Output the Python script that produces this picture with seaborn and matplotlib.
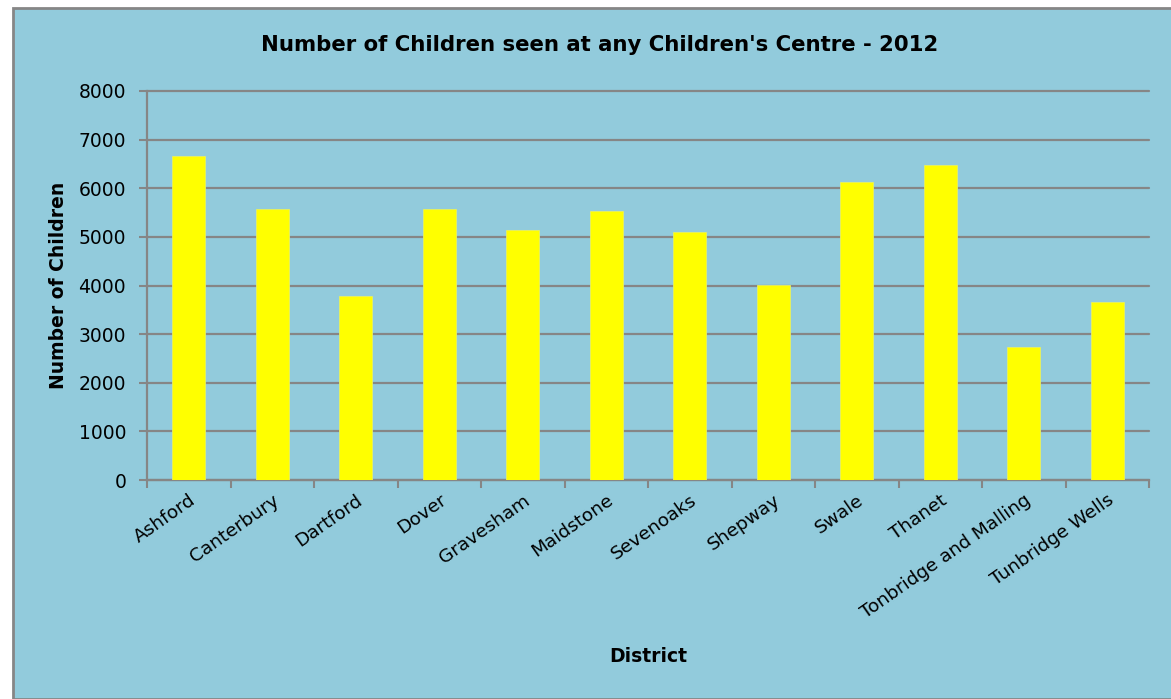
import numpy as np
import pandas as pd
import matplotlib
matplotlib.use("Agg")
import matplotlib.pyplot as plt
import seaborn as sns
from matplotlib.patches import Rectangle

# data
districts = ["Ashford", "Canterbury", "Dartford", "Dover", "Gravesham",
             "Maidstone", "Sevenoaks", "Shepway", "Swale", "Thanet",
             "Tonbridge and Malling", "Tunbridge Wells"]
children = [6670, 5570, 3790, 5580, 5140, 5530, 5100, 4010, 6120, 6470, 2740, 3670]

df = pd.DataFrame({"District": districts, "Children": children})

BG = "#92CBDC"
GRID = "#868686"

sns.set_theme(style="white")
plt.rcParams["font.family"] = ["DejaVu Sans"]
plt.rcParams["text.color"] = "black"
plt.rcParams["axes.labelcolor"] = "black"
plt.rcParams["xtick.labelcolor"] = "black"
plt.rcParams["ytick.labelcolor"] = "black"

fig = plt.figure(figsize=(11.71, 6.99), dpi=100)
fig.patch.set_facecolor("white")
# chart-area box with grey border
fig.patches.append(Rectangle((13 / 1171, 0), 1 - 13 / 1171 + 0.01, 1 - 8 / 699,
                             transform=fig.transFigure, facecolor=BG,
                             edgecolor=GRID, linewidth=2, zorder=-10))

ax = fig.add_axes([147 / 1171, 1 - 480 / 699, (1149 - 147) / 1171, (480 - 91) / 699])
ax.set_facecolor(BG)

sns.barplot(data=df, x="District", y="Children", color="#FFFF00",
            saturation=1, width=0.4, ax=ax, zorder=3, edgecolor="#E8F060",
            linewidth=0.6)

ax.set_ylim(0, 8000)
ax.set_xlim(-0.5, len(districts) - 0.5)
ax.set_yticks(np.arange(0, 8001, 1000))
ax.yaxis.grid(True, color=GRID, linewidth=1.6, zorder=1)
ax.set_axisbelow(True)
for gl in ax.get_ygridlines():
    gl.set_clip_on(False)

for s in ["top", "right"]:
    ax.spines[s].set_visible(False)
for s in ["left", "bottom"]:
    ax.spines[s].set_color(GRID)
    ax.spines[s].set_linewidth(1.6)

# ticks at category boundaries, labels at centres
ax.set_xticks(np.arange(-0.5, len(districts), 1), minor=True)
ax.set_xticks(range(len(districts)))
ax.set_xticklabels(districts, rotation=35, ha="right", rotation_mode="anchor", fontsize=13.3)
ax.tick_params(axis="x", which="major", length=0, pad=8)
ax.tick_params(axis="x", which="minor", length=6, width=1.5, color=GRID, direction="out", bottom=True)
ax.tick_params(axis="y", length=6, width=1.5, color=GRID, direction="out", labelsize=13.5, pad=9, left=True)

ax.set_xlabel("District", fontsize=13.5, fontweight="bold", labelpad=0)
ax.xaxis.set_label_coords(0.5, -0.43)
ax.set_ylabel("Number of Children", fontsize=13.5, fontweight="bold")
ax.yaxis.set_label_coords(-0.079, 0.5)

fig.text(600 / 1171, 1 - 45 / 699, "Number of Children seen at any Children's Centre - 2012",
         ha="center", va="center", fontsize=15.3, fontweight="bold")

fig.savefig("out.png", dpi=100)
